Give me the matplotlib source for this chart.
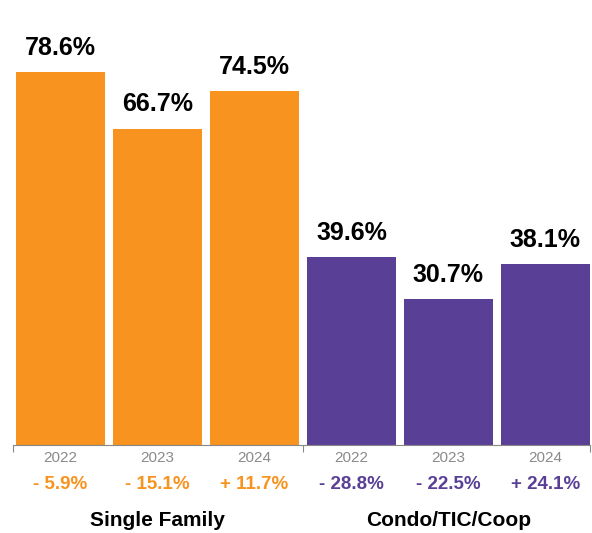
import matplotlib.pyplot as plt
import numpy as np

plt.rcParams['font.family'] = ['Liberation Sans', 'DejaVu Sans']

years = ['2022', '2023', '2024', '2022', '2023', '2024']
values = [78.6, 66.7, 74.5, 39.6, 30.7, 38.1]
changes = ['- 5.9%', '- 15.1%', '+ 11.7%', '- 28.8%', '- 22.5%', '+ 24.1%']
groups = ['Single Family', 'Condo/TIC/Coop']

orange = '#F7931E'
purple = '#5A3F97'
colors = [orange] * 3 + [purple] * 3

fig = plt.figure(figsize=(5.92, 5.33), dpi=100)
ax = fig.add_axes([13 / 592, 88 / 533, 577 / 592, 445 / 533])

x = np.arange(len(values))
ax.bar(x, values, width=0.918, color=colors)
ax.set_xlim(-0.49, 5.46)
ax.set_ylim(0, 445 / 4.745)

for xi, v in zip(x, values):
    ax.annotate(f'{v}%', (xi, v), xytext=(0, 9), textcoords='offset points',
                ha='center', va='bottom', fontsize=18, fontweight='bold')

for xi, yr, ch, c in zip(x, years, changes, colors):
    ax.annotate(yr, (xi, 0), xytext=(0, -9.5), textcoords='offset points',
                ha='center', va='center', fontsize=11, color='#8a8a8a')
    ax.annotate(ch, (xi, 0), xytext=(0, -28.5), textcoords='offset points',
                ha='center', va='center', fontsize=13.5, fontweight='bold', color=c)

for gx, g in zip([1, 4], groups):
    ax.annotate(g, (gx, 0), xytext=(0, -54.5), textcoords='offset points',
                ha='center', va='center', fontsize=15, fontweight='bold')

for s in ['top', 'right', 'left']:
    ax.spines[s].set_visible(False)
ax.spines['bottom'].set_color('#888888')
ax.spines['bottom'].set_linewidth(0.8)
ax.set_yticks([])
ax.set_xticks([-0.49, 2.5, 5.46])
ax.set_xticklabels([])
ax.tick_params(axis='x', length=5, color='#888888', width=0.8)

fig.savefig('out.png', dpi=100)
